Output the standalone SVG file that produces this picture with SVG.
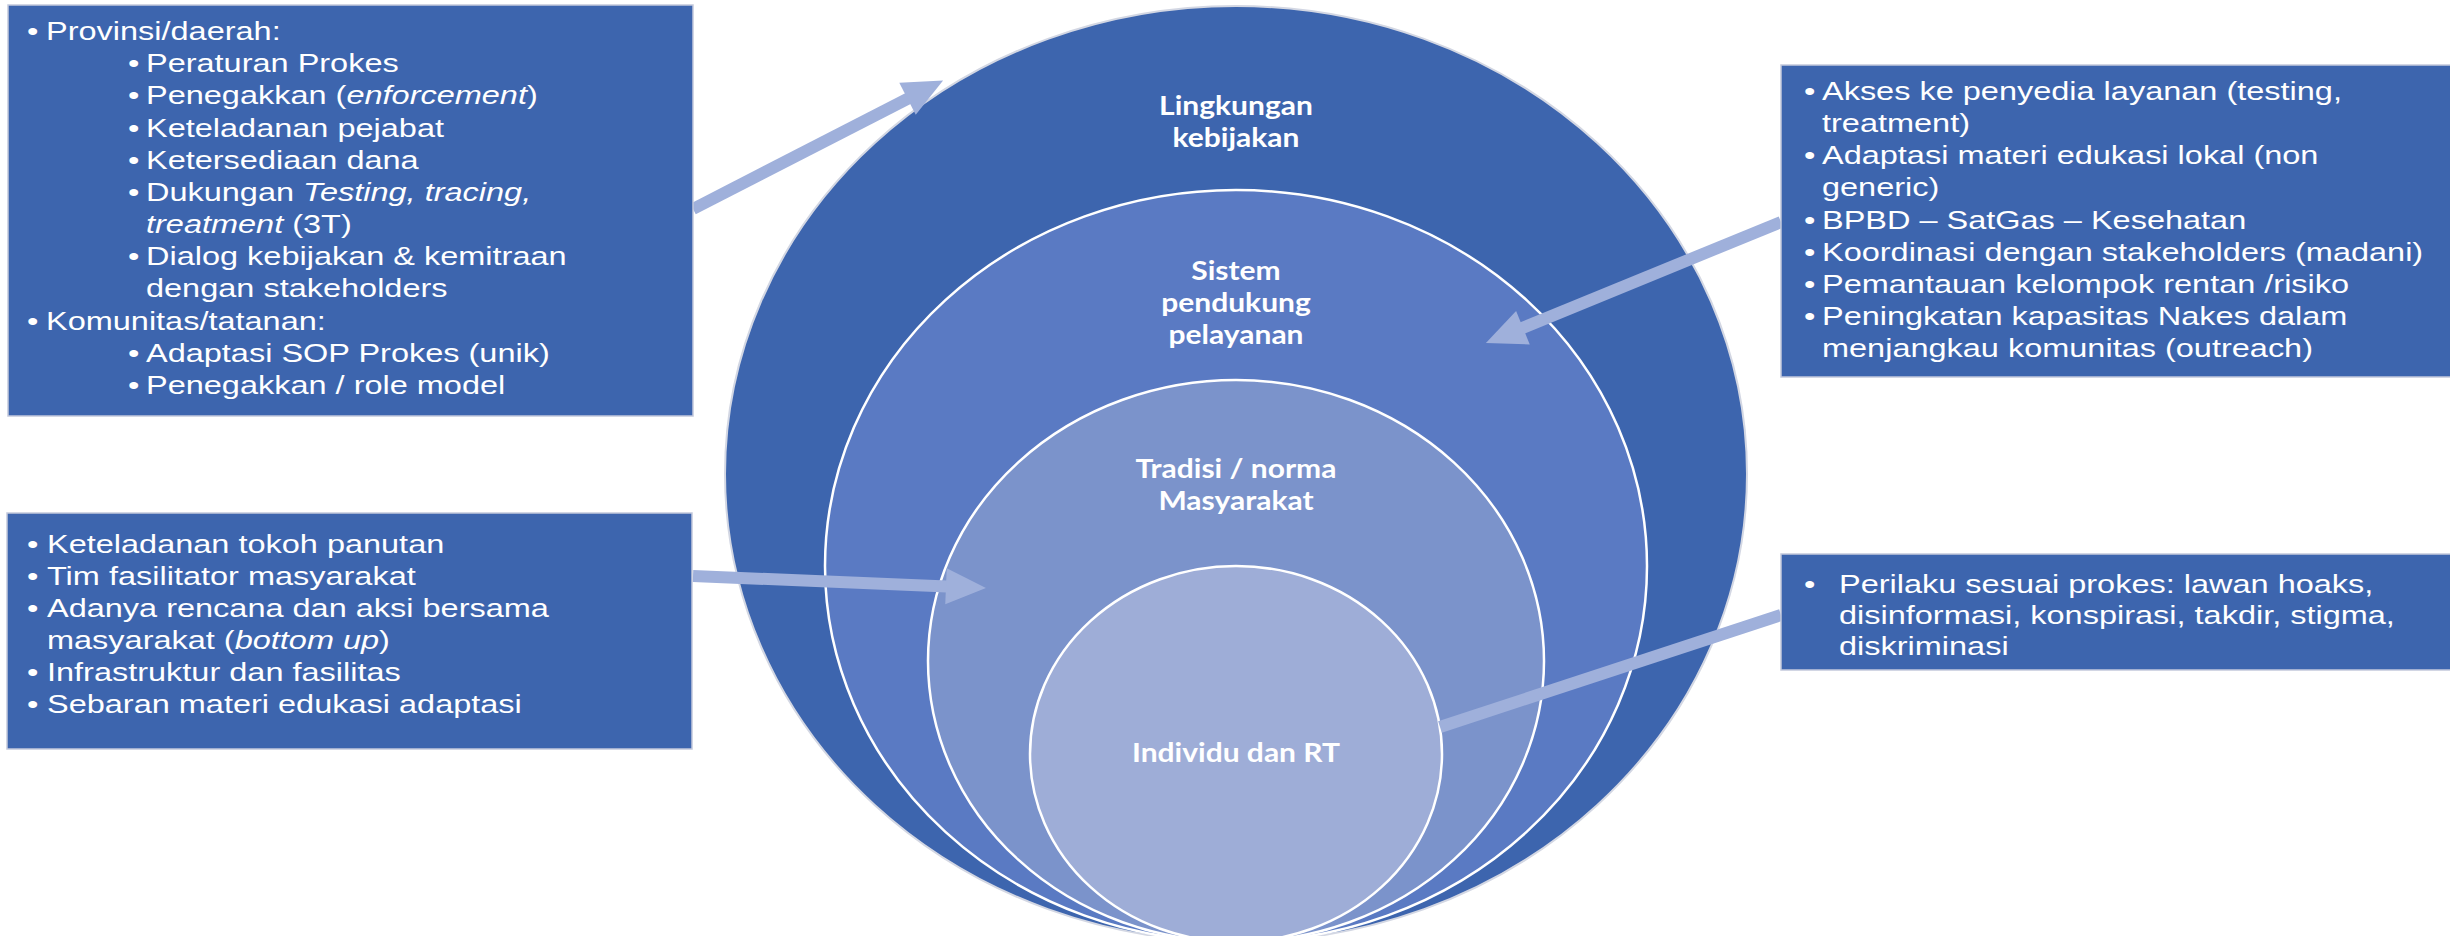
<svg xmlns="http://www.w3.org/2000/svg" width="2450" height="936" viewBox="0 0 2450 936">
<style>
.box{fill:#3d65ae;stroke:#c3c9dc;stroke-width:1.5}
.bt{font-family:"Liberation Sans",Arial,sans-serif;font-size:32.5px;fill:#ffffff}
.cl{font-family:Lato,"Open Sans",sans-serif;font-weight:bold;font-size:30px;fill:#ffffff;text-anchor:middle}
.ring{stroke:#ffffff;stroke-width:2.5}
.arr{stroke:#9fb0db;stroke-width:12;fill:none}
</style>
<defs>
<marker id="head" markerUnits="userSpaceOnUse" markerWidth="40" markerHeight="36" refX="1" refY="18" orient="auto" overflow="visible">
<path d="M0,0 L40,18 L0,36 z" fill="#9fb0db"/>
</marker>
</defs>
<rect width="2450" height="936" fill="#ffffff"/>

<g id="rings">
<ellipse id="ring-lingkungan" cx="1236" cy="474" rx="511" ry="468" fill="#3d65ae" stroke="#d3d7e3" stroke-width="2"/>
<ellipse id="ring-sistem" class="ring" cx="1236" cy="566" rx="411" ry="376" fill="#5a7ac3"/>
<ellipse id="ring-tradisi" class="ring" cx="1236" cy="661" rx="308" ry="281" fill="#7b93cb"/>
<ellipse id="ring-individu" class="ring" cx="1236" cy="754" rx="206" ry="188" fill="#9eadd7"/>
</g>

<g id="ring-labels">
<text class="cl" transform="translate(1236,115) scale(1,0.88)">Lingkungan</text>
<text class="cl" transform="translate(1236,147) scale(1,0.88)">kebijakan</text>
<text class="cl" transform="translate(1236,280) scale(1,0.88)">Sistem</text>
<text class="cl" transform="translate(1236,312) scale(1,0.88)">pendukung</text>
<text class="cl" transform="translate(1236,344) scale(1,0.88)">pelayanan</text>
<text class="cl" transform="translate(1236,478) scale(1,0.88)">Tradisi / norma</text>
<text class="cl" transform="translate(1236,510) scale(1,0.88)">Masyarakat</text>
<text class="cl" transform="translate(1236,762) scale(1,0.88)">Individu dan RT</text>
</g>

<g id="connectors">
<line class="arr" x1="693" y1="209" x2="908.4" y2="98.3" marker-end="url(#head)"/>
<line class="arr" x1="1781" y1="222" x2="1522" y2="328.1" marker-end="url(#head)"/>
<line class="arr" x1="693" y1="576" x2="947" y2="586.4" marker-end="url(#head)"/>
<line class="arr" x1="1781" y1="615" x2="1440" y2="727"/>
</g>

<g id="box-provinsi">
<rect class="box" x="8" y="5" width="685" height="411"/>
<g class="bt" transform="translate(0,40) scale(1,0.79)">
<text x="27" y="0">•</text><text x="46" y="0">Provinsi/daerah:</text>
<text x="128" y="40.73">•</text><text x="146" y="40.73">Peraturan Prokes</text>
<text x="128" y="81.47">•</text><text x="146" y="81.47">Penegakkan (<tspan font-style="italic">enforcement</tspan>)</text>
<text x="128" y="122.2">•</text><text x="146" y="122.2">Keteladanan pejabat</text>
<text x="128" y="162.94">•</text><text x="146" y="162.94">Ketersediaan dana</text>
<text x="128" y="203.67">•</text><text x="146" y="203.67">Dukungan <tspan font-style="italic">Testing, tracing,</tspan></text>
<text x="146" y="244.41"><tspan font-style="italic">treatment</tspan> (3T)</text>
<text x="128" y="285.14">•</text><text x="146" y="285.14">Dialog kebijakan &amp; kemitraan</text>
<text x="146" y="325.87">dengan stakeholders</text>
<text x="27" y="366.61">•</text><text x="46" y="366.61">Komunitas/tatanan:</text>
<text x="128" y="407.34">•</text><text x="146" y="407.34">Adaptasi SOP Prokes (unik)</text>
<text x="128" y="448.08">•</text><text x="146" y="448.08">Penegakkan / role model</text>
</g>
</g>

<g id="box-masyarakat">
<rect class="box" x="7" y="513" width="685" height="236"/>
<g class="bt" transform="translate(0,553) scale(1,0.79)">
<text x="27" y="0">•</text><text x="47" y="0">Keteladanan tokoh panutan</text>
<text x="27" y="40.51">•</text><text x="47" y="40.51">Tim fasilitator masyarakat</text>
<text x="27" y="81.01">•</text><text x="47" y="81.01">Adanya rencana dan aksi bersama</text>
<text x="47" y="121.52">masyarakat (<tspan font-style="italic">bottom up</tspan>)</text>
<text x="27" y="162.03">•</text><text x="47" y="162.03">Infrastruktur dan fasilitas</text>
<text x="27" y="202.53">•</text><text x="47" y="202.53">Sebaran materi edukasi adaptasi</text>
</g>
</g>

<g id="box-pelayanan">
<rect class="box" x="1781" y="65" width="675" height="312"/>
<g class="bt" transform="translate(0,100) scale(1,0.79)">
<text x="1804" y="0">•</text><text x="1822" y="0">Akses ke penyedia layanan (testing,</text>
<text x="1822" y="40.7">treatment)</text>
<text x="1804" y="81.4">•</text><text x="1822" y="81.4">Adaptasi materi edukasi lokal (non</text>
<text x="1822" y="122.1">generic)</text>
<text x="1804" y="162.8">•</text><text x="1822" y="162.8">BPBD – SatGas – Kesehatan</text>
<text x="1804" y="203.5">•</text><text x="1822" y="203.5">Koordinasi dengan stakeholders (madani)</text>
<text x="1804" y="244.2">•</text><text x="1822" y="244.2">Pemantauan kelompok rentan /risiko</text>
<text x="1804" y="284.9">•</text><text x="1822" y="284.9">Peningkatan kapasitas Nakes dalam</text>
<text x="1822" y="325.6">menjangkau komunitas (outreach)</text>
</g>
</g>

<g id="box-individu">
<rect class="box" x="1781" y="554" width="675" height="116"/>
<g class="bt" transform="translate(0,593) scale(1,0.79)">
<text x="1804" y="0">•</text><text x="1839" y="0">Perilaku sesuai prokes: lawan hoaks,</text>
<text x="1839" y="39.24">disinformasi, konspirasi, takdir, stigma,</text>
<text x="1839" y="78.48">diskriminasi</text>
</g>
</g>
</svg>
